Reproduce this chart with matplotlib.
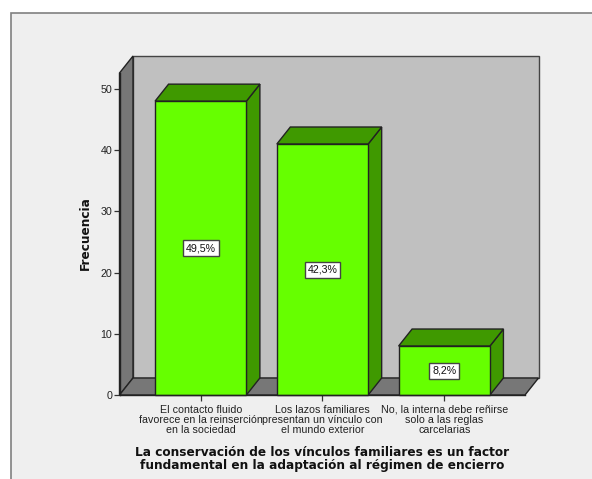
import matplotlib
matplotlib.use('Agg')
import matplotlib.pyplot as plt
from matplotlib.patches import Polygon, Rectangle

categorias = ['El contacto fluido\nfavorece en la reinserción\nen la sociedad',
              'Los lazos familiares\npresentan un vínculo con\nel mundo exterior',
              'No, la interna debe reñirse\nsolo a las reglas\ncarcelarias']
frecuencias = [48, 41, 8]
marcas_y = [0, 10, 20, 30, 40, 50]
titulo_x = 'La conservación de los vínculos familiares es un factor\nfundamental en la adaptación al régimen de encierro'

W, H = 592, 479
plt.rcParams['font.family'] = ['Liberation Sans', 'DejaVu Sans']

fig = plt.figure(figsize=(W / 100, H / 100), dpi=100, facecolor='white')

# panel gris de fondo, se sale por la derecha y por abajo
fig.add_artist(Rectangle((10.5 / W, -0.05), 1.1, (479 - 13.5) / H + 0.05, transform=fig.transFigure,
                         facecolor='#efefef', edgecolor='#808080', linewidth=1.2, zorder=-1))

ax = fig.add_axes([119.5 / W, (H - 395) / H, (525 - 119.5) / W, (395 - 73) / H])
ax.set_facecolor('none')
xmin, xmax = -0.667, 2.663
ymin, ymax = 0, 52.6
ax.set_xlim(xmin, xmax)
ax.set_ylim(ymin, ymax)

# profundidad de la caja 3D en unidades de datos
dx = 13.5 / 121.75
dy = 17 / 6.12
ancho = 0.75
borde = '#222222'


def poli(puntos, color, z=1, lw=1.0, ec=borde):
    ax.add_patch(Polygon(puntos, closed=True, facecolor=color, edgecolor=ec, linewidth=lw,
                         clip_on=False, zorder=z, joinstyle='miter'))


# paredes y suelo
poli([(xmin + dx, ymin + dy), (xmax + dx, ymin + dy), (xmax + dx, ymax + dy), (xmin + dx, ymax + dy)], '#c0c0c0', 1, ec='#444444')
poli([(xmin, ymin), (xmin + dx, ymin + dy), (xmin + dx, ymax + dy), (xmin, ymax)], '#777777', 2)
poli([(xmin, ymin), (xmax, ymin), (xmax + dx, ymin + dy), (xmin + dx, ymin + dy)], '#777777', 2)

total = sum(frecuencias)
for i, v in enumerate(frecuencias):
    x0, x1 = i - ancho / 2, i + ancho / 2
    poli([(x1, 0), (x1 + dx, dy), (x1 + dx, v + dy), (x1, v)], '#3f9900', 3)
    poli([(x0, v), (x1, v), (x1 + dx, v + dy), (x0 + dx, v + dy)], '#3f9900', 3)
    ax.bar(i, v, width=ancho, color='#66ff00', edgecolor=borde, linewidth=1.0, zorder=4, clip_on=False)
    etiqueta = f'{100 * v / total:.1f}%'.replace('.', ',')
    ax.text(i, v / 2, etiqueta, ha='center', va='center', fontsize=7.7, color='#111111', zorder=5,
            bbox=dict(boxstyle='square,pad=0.28', facecolor='white', edgecolor='#444444', linewidth=1.0))

for lado in ['top', 'right']:
    ax.spines[lado].set_visible(False)
for lado in ['left', 'bottom']:
    ax.spines[lado].set_color(borde)
    ax.spines[lado].set_linewidth(1.0)
    ax.spines[lado].set_zorder(6)

ax.set_xticks(range(len(categorias)))
ax.set_xticklabels(categorias, fontsize=7.7, color='#222222', linespacing=1.02)
ax.set_yticks(marcas_y)
ax.tick_params(axis='x', length=4.3, width=0.9, color='#333333', pad=2.6)
ax.tick_params(axis='y', length=4.3, width=0.9, color='#333333', pad=1, labelsize=7.7, labelcolor='#222222')

fig.text(85.5 / W, 1 - 233.5 / H, 'Frecuencia', rotation=90, ha='center', va='center', fontsize=8.75,
         fontweight='bold', color='#111111', family='DejaVu Sans')
fig.text(322.5 / W, 1 - 459 / H, titulo_x, ha='center', va='center', fontsize=8.75, fontweight='bold',
         color='#111111', family='DejaVu Sans', linespacing=1.0)

fig.savefig('out.png', dpi=100, facecolor='white')
